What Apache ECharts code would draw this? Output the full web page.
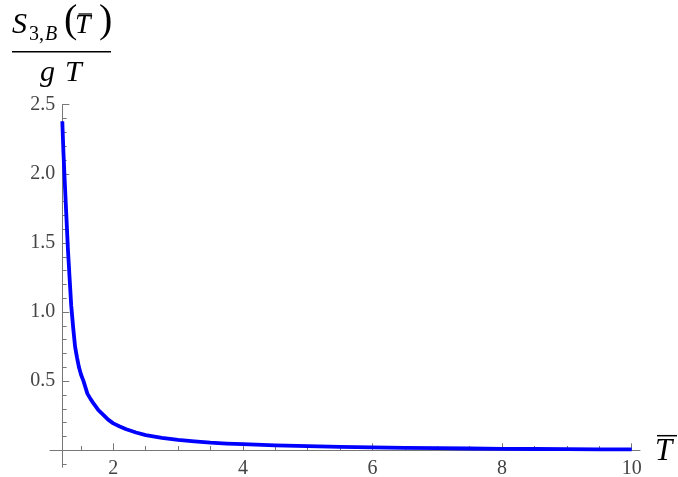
<!DOCTYPE html>
<html><head><meta charset="utf-8">
<script src="https://cdn.jsdelivr.net/npm/echarts@6/dist/echarts.min.js"></script>
<style>html,body{margin:0;padding:0;background:#fff}#c{width:678px;height:477px}</style>
</head><body><div id="c"></div>
<script>
const xValues = [1.213, 1.23, 1.25, 1.275, 1.30, 1.325, 1.35, 1.38, 1.41, 1.44, 1.47, 1.50, 1.54, 1.57, 1.60, 1.65, 1.70, 1.77, 1.85, 1.92, 2.0, 2.1, 2.2, 2.35, 2.5, 2.75, 3.0, 3.25, 3.5, 3.75, 4.0, 4.5, 5.0, 5.5, 6.0, 6.5, 7.0, 7.5, 8.0, 8.5, 9.0, 9.5, 10.0];
const yValues = [2.38, 2.16, 1.95, 1.70, 1.45, 1.25, 1.05, 0.89, 0.75, 0.67, 0.60, 0.55, 0.50, 0.455, 0.41, 0.37, 0.335, 0.29, 0.255, 0.222, 0.195, 0.172, 0.152, 0.129, 0.110, 0.090, 0.075, 0.064, 0.055, 0.049, 0.044, 0.036, 0.030, 0.025, 0.021, 0.018, 0.015, 0.013, 0.011, 0.0095, 0.008, 0.007, 0.006];
const xLabelTicks = [2, 4, 6, 8, 10];
const xMinorTicks = [1.5, 2.5, 3, 3.5, 4.5, 5, 5.5, 6.5, 7, 7.5, 8.5, 9, 9.5];
const yLabelTicks = [0.5, 1.0, 1.5, 2.0, 2.5];
const yMinorTicks = [-0.1, 0.1, 0.2, 0.3, 0.4, 0.6, 0.7, 0.8, 0.9, 1.1, 1.2, 1.3, 1.4, 1.6, 1.7, 1.8, 1.9, 2.1, 2.2, 2.3, 2.4];

const FONT = '"Liberation Serif", "Times New Roman", Times, serif';
const AX = '#777';
const X_MIN = 1.023, X_MAX = 10.128, Y_MIN = -0.123, Y_MAX = 2.5;
const Y_OFF = -12.3;

const chart = echarts.init(document.getElementById('c'), null, {renderer: 'canvas'});
const data = xValues.map((x, i) => [x, yValues[i]]);

function ttl(s, left, top, size, italic) {
  return {text: s, left: left, top: top, padding: 0, itemGap: 0,
    textStyle: {fontFamily: FONT, fontSize: size, fontStyle: italic ? 'italic' : 'normal',
      fontWeight: 'normal', color: '#000', lineHeight: size}};
}

const option = {
  animation: false,
  backgroundColor: '#fff',
  title: [
    ttl('S', 12, 9.9, 30, true),
    ttl('3', 29, 24.3, 20, false),
    ttl(',', 39, 24.3, 20, false),
    ttl('B', 45, 24.3, 20, true),
    ttl('(', 64, 1.0, 40, false),
    ttl('T', 75, 11.6, 28, true),
    ttl(')', 99, 1.0, 40, false),
    ttl('g', 40, 57.9, 30, true),
    ttl('T', 65, 58.2, 30, true),
    ttl('T', 655, 436.2, 31, true)
  ],
  grid: {left: 50, right: 38, top: 104.7, bottom: 9.7, outerBoundsMode: 'none'},
  xAxis: [
    {
      type: 'value', min: X_MIN, max: X_MAX, position: 'bottom',
      axisLine: {show: true, onZero: true, lineStyle: {color: AX, width: 1}},
      axisTick: {show: true, inside: true, length: 7, customValues: xLabelTicks, lineStyle: {color: AX, width: 1}},
      axisLabel: {show: true, customValues: xLabelTicks, margin: -6.5, color: '#444', fontFamily: FONT, fontSize: 20, lineHeight: 16, hideOverlap: false, formatter: v => String(v)},
      splitLine: {show: false}
    },
    {
      type: 'value', min: X_MIN, max: X_MAX, position: 'bottom',
      axisLine: {show: false, onZero: true},
      axisTick: {show: true, inside: true, length: 4.3, customValues: xMinorTicks, lineStyle: {color: AX, width: 1}},
      axisLabel: {show: false},
      splitLine: {show: false}
    }
  ],
  yAxis: [
    {
      type: 'value', min: Y_MIN, max: Y_MAX, position: 'left', offset: Y_OFF,
      axisLine: {show: true, onZero: false, lineStyle: {color: AX, width: 1}},
      axisTick: {show: true, inside: true, length: 7, customValues: yLabelTicks, lineStyle: {color: AX, width: 1}},
      axisLabel: {show: true, customValues: yLabelTicks, margin: 7, color: '#444', fontFamily: FONT, fontSize: 20, formatter: v => v.toFixed(1)},
      splitLine: {show: false}
    },
    {
      type: 'value', min: Y_MIN, max: Y_MAX, position: 'left', offset: Y_OFF,
      axisLine: {show: false, onZero: false},
      axisTick: {show: true, inside: true, length: 4.3, customValues: yMinorTicks, lineStyle: {color: AX, width: 1}},
      axisLabel: {show: false},
      splitLine: {show: false}
    }
  ],
  series: [{
    type: 'line', xAxisIndex: 0, yAxisIndex: 0, data: data,
    showSymbol: false, smooth: false,
    lineStyle: {color: '#0000ff', width: 3.8, join: 'round', cap: 'butt'}, clip: false, z: 5
  }],
  graphic: [
    {type: 'line', z: 100, shape: {x1: 78.5, y1: 14, x2: 92, y2: 14}, style: {stroke: '#000', lineWidth: 1.3}},
    {type: 'line', z: 100, shape: {x1: 12, y1: 51.7, x2: 111, y2: 51.7}, style: {stroke: '#000', lineWidth: 1.5}},
    {type: 'line', z: 100, shape: {x1: 657, y1: 435.7, x2: 677, y2: 435.7}, style: {stroke: '#000', lineWidth: 1.5}}
  ]
};
chart.setOption(option);
</script>
</body></html>
